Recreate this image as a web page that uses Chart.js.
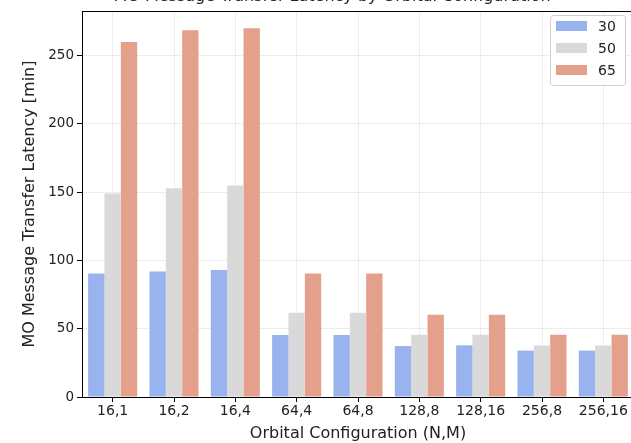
<!DOCTYPE html>
<html>
<head>
<meta charset="utf-8">
<script src="https://cdn.jsdelivr.net/npm/chart.js@4/dist/chart.umd.min.js"></script>
<style>
  html, body { margin: 0; padding: 0; background: #fff; }
  body { width: 631px; height: 443px; overflow: hidden; position: relative; }
  canvas { position: absolute; left: 0; top: 0; }
</style>
</head>
<body>
<canvas id="chart" width="636" height="443"></canvas>
<script>
// Data
const categories = ['16,1', '16,2', '16,4', '64,4', '64,8', '128,8', '128,16', '256,8', '256,16'];
const seriesNames = ['30', '50', '65'];
const lat30 = [90.5, 92, 93, 45.5, 45.5, 37.3, 38, 34, 34];
const lat50 = [149, 153, 155, 61.8, 61.8, 45.6, 45.6, 37.8, 37.8];
const lat65 = [260, 268.6, 270.2, 90.5, 90.5, 60.3, 60.3, 45.6, 45.6];
const yTicks = [0, 50, 100, 150, 200, 250];

const titleText = 'MO Message Transfer Latency by Orbital Configuration';
const colors = ['#98b3ee', '#d9d9d9', '#e4a08a'];
const FONT = "'DejaVu Sans', sans-serif";

// frame around the plot + cropped title
const framePlugin = {
  id: 'frame',
  afterDraw(chart) {
    const { ctx, chartArea: a } = chart;
    ctx.save();
    ctx.strokeStyle = '#000';
    ctx.lineWidth = 1;
    ctx.strokeRect(Math.round(a.left) + 0.5, Math.round(a.top) + 0.5,
      Math.round(a.right - a.left), Math.round(a.bottom - a.top));
    ctx.fillStyle = '#222';
    ctx.font = '16px ' + FONT;
    ctx.textAlign = 'center';
    ctx.textBaseline = 'alphabetic';
    ctx.fillText(titleText, 332, 0.5);
    ctx.restore();
  }
};

// legend drawn inside the plot, upper right
const legendPlugin = {
  id: 'innerLegend',
  afterDraw(chart) {
    const { ctx } = chart;
    const x = 550.5, y = 15.5, w = 75, h = 70;
    ctx.save();
    ctx.fillStyle = 'rgba(255,255,255,0.85)';
    ctx.strokeStyle = '#d0d0d0';
    ctx.lineWidth = 1;
    ctx.beginPath();
    ctx.roundRect(x, y, w, h, 3);
    ctx.fill();
    ctx.stroke();
    ctx.font = '14px ' + FONT;
    ctx.textBaseline = 'middle';
    ctx.textAlign = 'left';
    chart.data.datasets.forEach((ds, i) => {
      const cy = 26 + i * 22;
      ctx.fillStyle = ds.backgroundColor;
      ctx.fillRect(556, cy - 5, 31, 10);
      ctx.fillStyle = '#222';
      ctx.fillText(ds.label, 598, cy + 1);
    });
    ctx.restore();
  }
};

new Chart(document.getElementById('chart'), {
  type: 'bar',
  data: {
    labels: categories,
    datasets: [lat30, lat50, lat65].map((d, i) => ({
      label: seriesNames[i],
      data: d,
      backgroundColor: colors[i],
      borderWidth: 0,
      categoryPercentage: 0.8,
      barPercentage: 1.0
    }))
  },
  options: {
    responsive: false,
    animation: false,
    layout: { padding: { top: 8, right: 2, left: 0, bottom: 0 } },
    plugins: {
      legend: { display: false },
      title: { display: false },
      tooltip: { enabled: false }
    },
    scales: {
      x: {
        offset: true,
        grid: {
          offset: false,
          color: 'rgba(0,0,0,0.07)',
          tickColor: '#000',
          tickLength: 5
        },
        border: { display: true, color: '#000' },
        ticks: { color: '#222', font: { family: FONT, size: 14 }, padding: 1, maxRotation: 0, autoSkip: false },
        title: { display: true, text: 'Orbital Configuration (N,M)', color: '#222', font: { family: FONT, size: 16 }, padding: { top: 0, bottom: 0 } },
        afterFit(scale) { scale.height = 46; }
      },
      y: {
        min: 0,
        max: 282.7,
        afterBuildTicks(scale) { scale.ticks = yTicks.map(v => ({ value: v })); },
        grid: {
          color: 'rgba(0,0,0,0.07)',
          tickColor: '#000',
          tickLength: 5
        },
        border: { display: true, color: '#000' },
        ticks: { color: '#222', font: { family: FONT, size: 13.5 }, padding: 3 },
        title: { display: true, text: 'MO Message Transfer Latency [min]', color: '#222', font: { family: FONT, size: 16 }, padding: { top: 20, bottom: 0 } },
        afterFit(scale) { scale.width = 82; }
      }
    }
  },
  plugins: [framePlugin, legendPlugin]
});
</script>
</body>
</html>
